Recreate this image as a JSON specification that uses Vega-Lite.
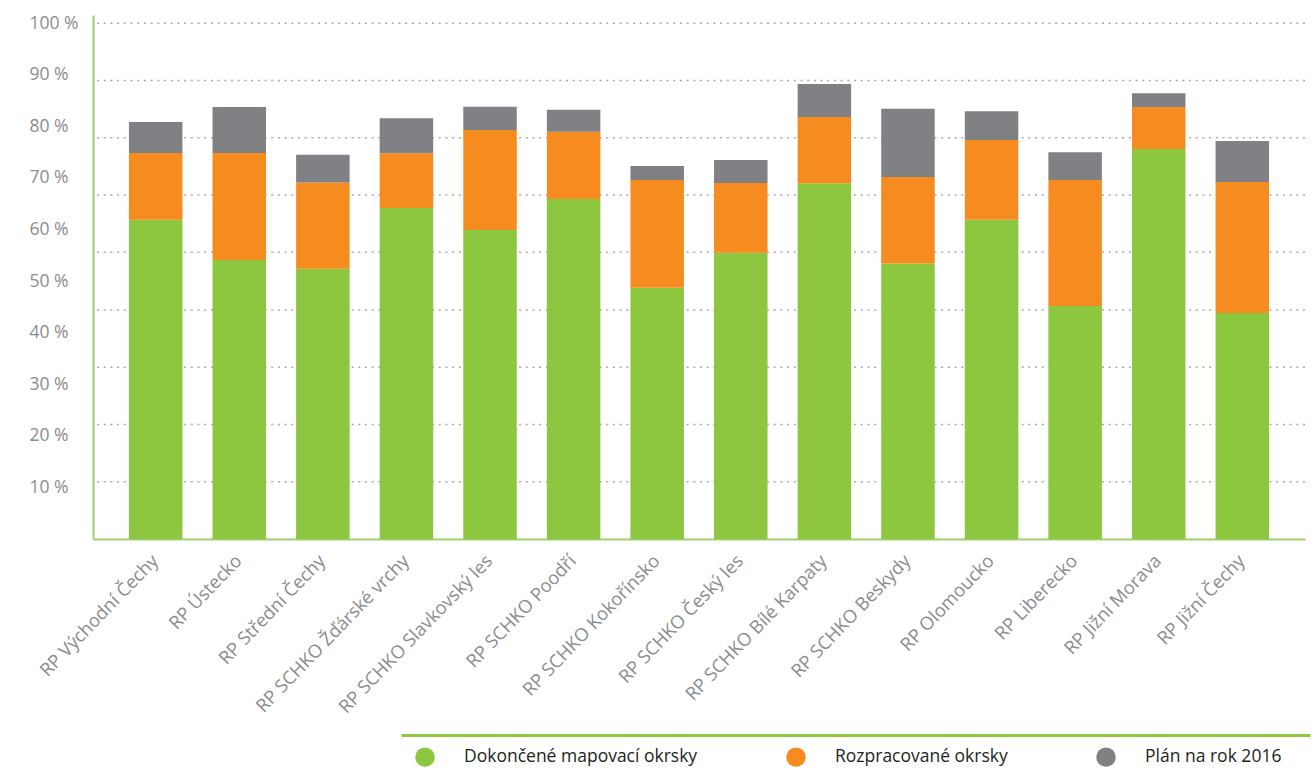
{
  "$schema": "https://vega.github.io/schema/vega-lite/v6.json",
  "width": 1212,
  "height": 524,
  "autosize": {"type": "none"},
  "padding": {"left": 93, "top": 15, "right": 11, "bottom": 231},
  "background": "white",
  "config": {
    "view": {"stroke": null},
    "font": "Open Sans",
    "axis": {"labelFont": "Open Sans", "titleFont": "Open Sans"},
    "legend": {"labelFont": "Open Sans"}
  },
  "datasets": {
    "bars": [
      {"r": "RP Východní Čechy", "s": "Dokončené mapovací okrsky", "v": 61.9, "k": 1},
      {"r": "RP Východní Čechy", "s": "Rozpracované okrsky", "v": 12.95, "k": 2},
      {"r": "RP Východní Čechy", "s": "Plán na rok 2016", "v": 6.0, "k": 3},
      {"r": "RP Ústecko", "s": "Dokončené mapovací okrsky", "v": 54.1, "k": 1},
      {"r": "RP Ústecko", "s": "Rozpracované okrsky", "v": 20.75, "k": 2},
      {"r": "RP Ústecko", "s": "Plán na rok 2016", "v": 8.9, "k": 3},
      {"r": "RP Střední Čechy", "s": "Dokončené mapovací okrsky", "v": 52.4, "k": 1},
      {"r": "RP Střední Čechy", "s": "Rozpracované okrsky", "v": 16.7, "k": 2},
      {"r": "RP Střední Čechy", "s": "Plán na rok 2016", "v": 5.4, "k": 3},
      {"r": "RP SCHKO Žďárské vrchy", "s": "Dokončené mapovací okrsky", "v": 64.2, "k": 1},
      {"r": "RP SCHKO Žďárské vrchy", "s": "Rozpracované okrsky", "v": 10.6, "k": 2},
      {"r": "RP SCHKO Žďárské vrchy", "s": "Plán na rok 2016", "v": 6.8, "k": 3},
      {"r": "RP SCHKO Slavkovský les", "s": "Dokončené mapovací okrsky", "v": 59.9, "k": 1},
      {"r": "RP SCHKO Slavkovský les", "s": "Rozpracované okrsky", "v": 19.4, "k": 2},
      {"r": "RP SCHKO Slavkovský les", "s": "Plán na rok 2016", "v": 4.5, "k": 3},
      {"r": "RP SCHKO Poodří", "s": "Dokončené mapovací okrsky", "v": 65.9, "k": 1},
      {"r": "RP SCHKO Poodří", "s": "Rozpracované okrsky", "v": 13.05, "k": 2},
      {"r": "RP SCHKO Poodří", "s": "Plán na rok 2016", "v": 4.3, "k": 3},
      {"r": "RP SCHKO Kokořínsko", "s": "Dokončené mapovací okrsky", "v": 48.7, "k": 1},
      {"r": "RP SCHKO Kokořínsko", "s": "Rozpracované okrsky", "v": 20.9, "k": 2},
      {"r": "RP SCHKO Kokořínsko", "s": "Plán na rok 2016", "v": 2.7, "k": 3},
      {"r": "RP SCHKO Český les", "s": "Dokončené mapovací okrsky", "v": 55.5, "k": 1},
      {"r": "RP SCHKO Český les", "s": "Rozpracované okrsky", "v": 13.55, "k": 2},
      {"r": "RP SCHKO Český les", "s": "Plán na rok 2016", "v": 4.45, "k": 3},
      {"r": "RP SCHKO Bílé Karpaty", "s": "Dokončené mapovací okrsky", "v": 69.0, "k": 1},
      {"r": "RP SCHKO Bílé Karpaty", "s": "Rozpracované okrsky", "v": 12.8, "k": 2},
      {"r": "RP SCHKO Bílé Karpaty", "s": "Plán na rok 2016", "v": 6.4, "k": 3},
      {"r": "RP SCHKO Beskydy", "s": "Dokončené mapovací okrsky", "v": 53.4, "k": 1},
      {"r": "RP SCHKO Beskydy", "s": "Rozpracované okrsky", "v": 16.8, "k": 2},
      {"r": "RP SCHKO Beskydy", "s": "Plán na rok 2016", "v": 13.2, "k": 3},
      {"r": "RP Olomoucko", "s": "Dokončené mapovací okrsky", "v": 61.9, "k": 1},
      {"r": "RP Olomoucko", "s": "Rozpracované okrsky", "v": 15.45, "k": 2},
      {"r": "RP Olomoucko", "s": "Plán na rok 2016", "v": 5.6, "k": 3},
      {"r": "RP Liberecko", "s": "Dokončené mapovací okrsky", "v": 45.2, "k": 1},
      {"r": "RP Liberecko", "s": "Rozpracované okrsky", "v": 24.4, "k": 2},
      {"r": "RP Liberecko", "s": "Plán na rok 2016", "v": 5.4, "k": 3},
      {"r": "RP Jižní Morava", "s": "Dokončené mapovací okrsky", "v": 75.6, "k": 1},
      {"r": "RP Jižní Morava", "s": "Rozpracované okrsky", "v": 8.15, "k": 2},
      {"r": "RP Jižní Morava", "s": "Plán na rok 2016", "v": 2.7, "k": 3},
      {"r": "RP Jižní Čechy", "s": "Dokončené mapovací okrsky", "v": 43.8, "k": 1},
      {"r": "RP Jižní Čechy", "s": "Rozpracované okrsky", "v": 25.4, "k": 2},
      {"r": "RP Jižní Čechy", "s": "Plán na rok 2016", "v": 7.95, "k": 3}
    ],
    "grid": [
      {"g": 11.1}, {"g": 22.2}, {"g": 33.3}, {"g": 44.4}, {"g": 55.6},
      {"g": 66.7}, {"g": 77.8}, {"g": 88.9}, {"g": 100}
    ],
    "series": [
      {"s": "Dokončené mapovací okrsky"},
      {"s": "Rozpracované okrsky"},
      {"s": "Plán na rok 2016"}
    ]
  },
  "layer": [
    {
      "data": {"name": "grid"},
      "mark": {"type": "rule", "color": "#a7a9ac", "strokeWidth": 1.3, "strokeDash": [2, 4.7]},
      "encoding": {
        "y": {
          "field": "g", "type": "quantitative",
          "scale": {"domain": [0, 101.6], "nice": false, "zero": true},
          "axis": {
            "title": null, "values": [10, 20, 30, 40, 50, 60, 70, 80, 90, 100],
            "labelExpr": "datum.value + ' %'",
            "grid": false, "ticks": false, "tickSize": 0,
            "domainColor": "#9fcf6e", "domainWidth": 2,
            "labelAlign": "left", "labelPadding": 64, "labelBaseline": "middle",
            "labelFontSize": 17.5, "labelColor": "#8a8c8f"
          }
        }
      }
    },
    {
      "data": {"name": "bars"},
      "mark": {"type": "bar"},
      "encoding": {
        "x": {
          "field": "r", "type": "nominal", "sort": null,
          "scale": {"paddingInner": 0.36, "paddingOuter": 0.43},
          "axis": {
            "title": null, "orient": "bottom",
            "domainColor": "#9fcf6e", "domainWidth": 2,
            "ticks": false, "tickSize": 0,
            "labelAngle": -46, "labelFontSize": 18.3, "labelColor": "#8a8c8f",
            "labelPadding": 19, "labelLimit": 400, "grid": false
          }
        },
        "y": {
          "field": "v", "type": "quantitative", "stack": "zero",
          "scale": {"domain": [0, 101.6], "nice": false, "zero": true},
          "axis": {
            "title": null, "values": [10, 20, 30, 40, 50, 60, 70, 80, 90, 100],
            "labelExpr": "datum.value + ' %'",
            "grid": false, "ticks": false, "tickSize": 0,
            "domainColor": "#9fcf6e", "domainWidth": 2,
            "labelAlign": "left", "labelPadding": 64, "labelBaseline": "middle",
            "labelFontSize": 17.5, "labelColor": "#8a8c8f"
          }
        },
        "color": {
          "field": "s", "type": "nominal",
          "scale": {
            "domain": ["Dokončené mapovací okrsky", "Rozpracované okrsky", "Plán na rok 2016"],
            "range": ["#8dc63f", "#f68b1f", "#808184"]
          },
          "legend": {
            "title": null, "orient": "none", "legendX": 322, "legendY": 732,
            "direction": "horizontal", "symbolType": "circle", "symbolSize": 380,
            "symbolStrokeWidth": 0, "symbolOpacity": 1,
            "labelFontSize": 17.5, "labelColor": "#231f20", "labelOffset": 29,
            "columnPadding": 88, "padding": 0, "labelLimit": 400
          }
        },
        "order": {"field": "k", "type": "quantitative"}
      }
    },
    {
      "data": {"name": "series"},
      "mark": {"type": "point", "opacity": 0},
      "encoding": {
        "x": {
          "field": "s", "type": "nominal", "sort": null,
          "scale": {"type": "point", "range": [308, 1217]},
          "axis": {
            "orient": "bottom", "offset": 196, "title": null,
            "domainColor": "#8dc63f", "domainWidth": 3,
            "ticks": false, "labels": false, "grid": false
          }
        }
      }
    }
  ],
  "resolve": {"scale": {"x": "independent"}, "axis": {"x": "independent"}}
}
